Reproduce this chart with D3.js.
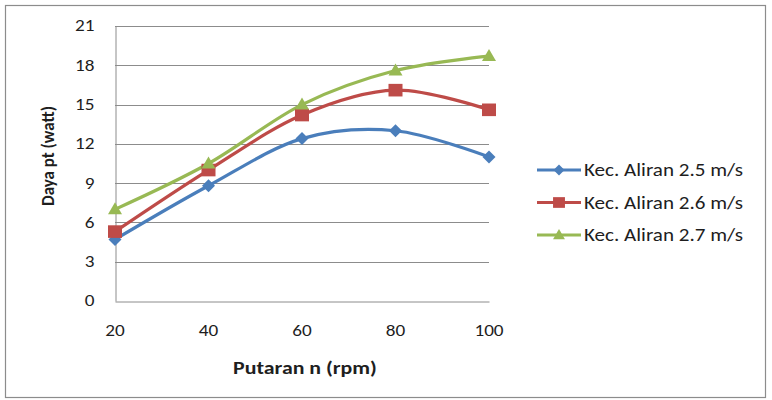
<!DOCTYPE html>
<html><head><meta charset="utf-8">
<script src="https://cdn.jsdelivr.net/npm/d3@7"></script>
<style>body{margin:0;background:#fff}svg{display:block}</style>
</head><body><svg id="c" width="772" height="400"></svg>
<script>
const categories = [20, 40, 60, 80, 100];
const seriesNames = ["Kec. Aliran 2.5 m/s", "Kec. Aliran 2.6 m/s", "Kec. Aliran 2.7 m/s"];
const s25 = [4.7, 8.8, 12.4, 13.0, 11.0];
const s26 = [5.3, 10.0, 14.2, 16.1, 14.6];
const s27 = [7.0, 10.5, 15.0, 17.6, 18.7];
const yTicks = [0, 3, 6, 9, 12, 15, 18, 21];
const colors = ["#4a7ebb", "#be4b48", "#98b954"];
const markers = ["diamond", "square", "triangle"];
const xTitle = "Putaran n (rpm)";
const yTitle = "Daya pt (watt)";

const svg = d3.select("#c");
const font = "Calibri, Carlito, 'Open Sans', sans-serif";
const ink = "#1e1e1e";
svg.append("rect").attr("x", 5.5).attr("y", 5.5).attr("width", 760).attr("height", 392)
  .attr("fill", "#fff").attr("stroke", "#8c8c8c").attr("stroke-width", 1.2);

const x = d3.scaleLinear().domain([20, 100]).range([115, 489]);
const y = d3.scaleLinear().domain([0, 21]).range([301, 26]);

function stretchText(parent, tx, ty, s, size, anchor, txt, bold) {
  return parent.append("text").attr("transform", `translate(${tx},${ty}) scale(${s},1)`)
    .attr("text-anchor", anchor).attr("font-family", font).attr("font-size", size)
    .attr("font-weight", bold ? "bold" : "normal").attr("fill", ink).text(txt);
}

const g = svg.append("g");
// gridlines
g.selectAll(".grid").data(yTicks.filter(d => d > 0)).join("line")
  .attr("x1", x(20)).attr("x2", x(100)).attr("y1", d => Math.round(y(d)) + 0.5).attr("y2", d => Math.round(y(d)) + 0.5)
  .attr("stroke", "#8c8c8c").attr("stroke-width", 1);

// axes lines via d3 axes (no ticks), labels drawn stretched
const ya = g.append("g").attr("transform", `translate(${x(20)+0.5},0)`).call(d3.axisLeft(y).tickValues(yTicks).tickSize(0).tickFormat(""));
const xa = g.append("g").attr("transform", `translate(0,${Math.round(y(0))+0.5})`).call(d3.axisBottom(x).tickValues(categories).tickSize(0).tickFormat(""));
[ya, xa].forEach(a => a.select(".domain").attr("stroke", "#8c8c8c"));

yTicks.forEach(t => {
  stretchText(g, 94.5, y(t), 1.2, 16, "end", String(t)).attr("dy", "0.34em");
});
categories.forEach(c => {
  stretchText(g, x(c), 330.5, 1.2, 16, "middle", String(c)).attr("dy", "0.34em");
});

const data = [s25, s26, s27];
const line = d3.line().x((d, i) => x(categories[i])).y(d => y(d)).curve(d3.curveCatmullRom.alpha(0));
data.forEach((s, k) => {
  g.append("path").attr("d", line(s)).attr("fill", "none").attr("stroke", colors[k]).attr("stroke-width", 3.2);
});

function marker(sel, type, color, f) {
  if (type === "diamond") sel.append("path").attr("d", `M0,${-6.5*f}L${6.5*f},0L0,${6.5*f}L${-6.5*f},0Z`).attr("fill", color);
  else if (type === "square") sel.append("rect").attr("x", -7*f).attr("y", -6.3*f).attr("width", 14*f).attr("height", 12.6*f).attr("fill", color);
  else sel.append("path").attr("d", `M0,${-7*f}L${7*f},${5*f}L${-7*f},${5*f}Z`).attr("fill", color);
}
data.forEach((s, k) => {
  s.forEach((v, i) => {
    const m = g.append("g").attr("transform", `translate(${x(categories[i])},${y(v)})`);
    marker(m, markers[k], colors[k], 1);
  });
});

// axis titles
stretchText(svg, 305, 374, 1.25, 17.5, "middle", xTitle, true);
svg.append("text").attr("transform", "translate(54,156) rotate(-90)").attr("text-anchor", "middle")
  .attr("font-family", font).attr("font-size", 17).attr("font-weight", "bold").attr("fill", ink).text(yTitle);

// legend
const legendY = [170, 202.5, 235];
seriesNames.forEach((n, k) => {
  const lg = svg.append("g").attr("transform", `translate(537,${legendY[k]})`);
  lg.append("line").attr("x1", 0).attr("x2", 44).attr("stroke", colors[k]).attr("stroke-width", 3.2);
  const m = lg.append("g").attr("transform", "translate(22,0)");
  marker(m, markers[k], colors[k], 0.85);
  stretchText(lg, 47, 0, 1.14, 18.5, "start", n).attr("dy", "0.34em");
});
</script></body></html>
